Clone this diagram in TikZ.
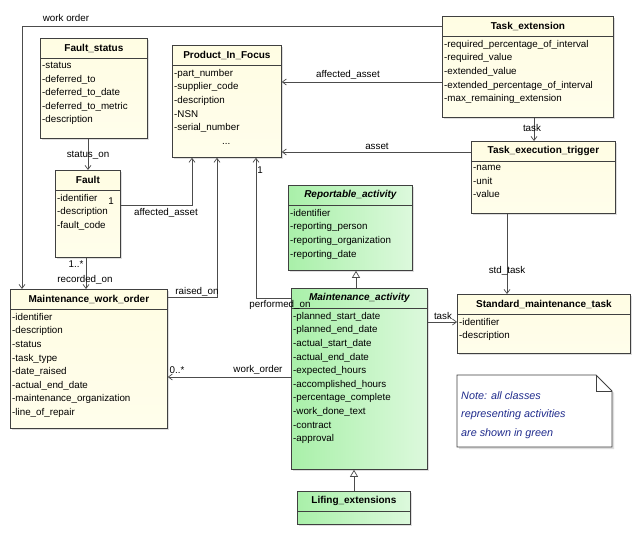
\documentclass[tikz,border=0pt]{standalone}
\usepackage{fontspec}
\setmainfont{Liberation Sans}
\usetikzlibrary{arrows.meta,shadows}
\definecolor{ybody}{HTML}{FFFDE3}
\definecolor{gbody}{HTML}{A9F0A9}
\definecolor{notec}{HTML}{1E2A8C}
\tikzset{
  box/.style={draw=black!75, line width=0.8pt, anchor=north west, inner sep=0pt, drop shadow={shadow xshift=2pt,shadow yshift=-2pt,fill=black!25}},
  ybox/.style={box, top color=ybody, bottom color=ybody!70!white},
  gbox/.style={box, left color=gbody, right color=gbody!40!white},
  title/.style={font=\fontsize{10}{11}\selectfont\bfseries, inner sep=0pt},
  ititle/.style={title, font=\fontsize{10}{11}\selectfont\bfseries\itshape},
  attr/.style={anchor=north west, align=left, inner sep=0pt, font=\fontsize{9.8}{13.6}\selectfont},
  lbl/.style={font=\fontsize{9.8}{10}\selectfont, inner sep=1pt},
  conn/.style={draw=black!70, line width=0.7pt, -{Straight Barb[length=4pt,width=6pt]}},
  gen/.style={draw=black!70, line width=0.7pt, -{Triangle[open,length=7pt,width=8pt,fill=white]}},
}
\newcommand{\umlc}[9]{%
  \node[#7, minimum width=#4pt, minimum height=#5pt] (#1) at (#2,#3) {};
  \draw[black!75, line width=0.8pt] ([yshift=-20pt]#1.north west) -- ([yshift=-20pt]#1.north east);
  \node[#8] (#1t) at ([yshift=-10pt]#1.north) {#9};
}
\begin{document}
\begin{tikzpicture}[x=1pt,y=-1pt]
\useasboundingbox (0,0) rectangle (637,534);
\fill[white] (0,0) rectangle (637,534);
\umlc{fs}{40}{38}{107}{100}{20}{ybox}{title}{Fault\_status}
\node[attr] (fsa) at (42,62) {-status\\-deferred\_to\\-deferred\_to\_date\\-deferred\_to\_metric\\-description};
\umlc{pif}{172}{45}{109}{112}{20}{ybox}{title}{Product\_In\_Focus}
\node[attr] (pifa) at (174,69) {-part\_number\\-supplier\_code\\-description\\-NSN\\-serial\_number\\\hspace*{48pt}...};
\umlc{f}{55}{170}{65}{87}{20}{ybox}{title}{Fault}
\node[attr] (fa) at (57,194) {-identifier\\-description\\-fault\_code};
\umlc{te}{442}{16}{171}{101}{20}{ybox}{title}{Task\_extension}
\node[attr] (tea) at (444,40) {-required\_percentage\_of\_interval\\-required\_value\\-extended\_value\\-extended\_percentage\_of\_interval\\-max\_remaining\_extension};
\umlc{tet}{471}{141}{144}{72}{20}{ybox}{title}{Task\_execution\_trigger}
\node[attr] (teta) at (473,165) {-name\\-unit\\-value};
\umlc{ra}{288}{185}{124}{85}{20}{gbox}{ititle}{Reportable\_activity}
\node[attr] (raa) at (290,209) {-identifier\\-reporting\_person\\-reporting\_organization\\-reporting\_date};
\umlc{ma}{291}{288}{136}{181}{20}{gbox}{ititle}{Maintenance\_activity}
\node[attr] (maa) at (293,312) {-planned\_start\_date\\-planned\_end\_date\\-actual\_start\_date\\-actual\_end\_date\\-expected\_hours\\-accomplished\_hours\\-percentage\_complete\\-work\_done\_text\\-contract\\-approval};
\umlc{le}{297}{491}{113}{33}{20}{gbox}{title}{Lifing\_extensions}
\umlc{mwo}{10}{289}{157}{139}{20}{ybox}{title}{Maintenance\_work\_order}
\node[attr] (mwoa) at (12,313) {-identifier\\-description\\-status\\-task\_type\\-date\_raised\\-actual\_end\_date\\-maintenance\_organization\\-line\_of\_repair};
\umlc{smt}{457}{294}{173}{59}{20}{ybox}{title}{Standard\_maintenance\_task}
\node[attr] (smta) at (459,318) {-identifier\\-description};
\filldraw[draw=black!75, fill=white, line width=0.8pt, drop shadow={shadow xshift=2pt,shadow yshift=-2pt,fill=black!25}]
  (457,375) -- (596,375) -- (612,391) -- (612,447) -- (457,447) -- cycle;
\draw[black!75, line width=0.8pt] (596,375) -- (596,391) -- (612,391);
\node[attr, font=\fontsize{10.8}{18.5}\selectfont\itshape, text=notec] (note) at (461,391) {Note: all classes\\representing activities\\are shown in green};
\draw[conn] (te.west |- 0,26) -- (22,26) -- (mwo.north -| 22,0);
\node[lbl] (l1) at (66,18) {work order};
\draw[conn] (fs.south -| 88,0) -- (f.north -| 88,0);
\node[lbl] (l2) at (88,155) {status\_on};
\draw[conn] (f.east |- 0,205) -- (192,205) -- (pif.south -| 192,0);
\node[lbl] (l3) at (166,213) {affected\_asset};
\node[lbl] (l3b) at (111,201) {1};
\draw[conn] (f.south -| 86,0) -- (mwo.north -| 86,0);
\node[lbl] (l4) at (76,264) {1..*};
\node[lbl] (l4b) at (85,280) {recorded\_on};
\draw[conn] (mwo.east |- 0,297) -- (217,297) -- (pif.south -| 217,0);
\node[lbl] (l5) at (197,292) {raised\_on};
\draw[conn] (ma.west |- 0,298) -- (256,298) -- (pif.south -| 256,0);
\node[lbl] (l6) at (260,170) {1};
\node[lbl] (l6b) at (280,305) {performed\_on};
\draw[conn] (te.west |- 0,82) -- (pif.east |- 0,82);
\node[lbl] (l7) at (348,75) {affected\_asset};
\draw[conn] (tet.west |- 0,152) -- (pif.east |- 0,152);
\node[lbl] (l8) at (377,146) {asset};
\draw[conn] (te.south -| 534,0) -- (tet.north -| 534,0);
\node[lbl] (l9) at (532,128) {task};
\draw[conn] (tet.south -| 507,0) -- (smt.north -| 507,0);
\node[lbl] (l10) at (507,271) {std\_task};
\draw[conn] (ma.east |- 0,322) -- (smt.west |- 0,322);
\node[lbl] (l11) at (443,316) {task};
\draw[conn] (ma.west |- 0,377) -- (mwo.east |- 0,377);
\node[lbl] (l12) at (258,370) {work\_order};
\node[lbl] (l13) at (177,370) {0..*};
\draw[gen] (ma.north -| 356,0) -- (ra.south -| 356,0);
\draw[gen] (le.north -| 354,0) -- (ma.south -| 354,0);
\end{tikzpicture}
\end{document}
